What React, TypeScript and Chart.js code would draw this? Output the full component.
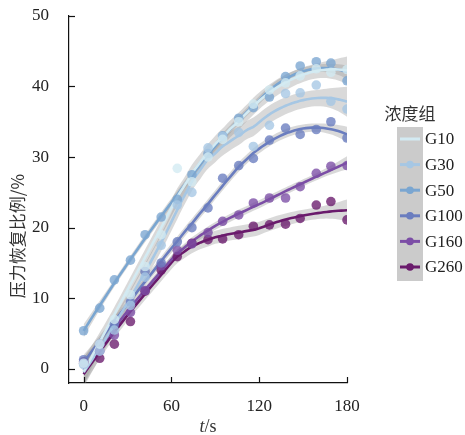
import React, { useEffect, useRef } from 'react';
import { Chart, registerables } from 'chart.js';
Chart.register(...registerables);

// sampling times (s)
const times = [0, 11, 21, 32, 42, 53, 64, 74, 85, 95, 106, 116, 127, 138, 148, 159, 169, 180];
const groupNames = ['G10', 'G30', 'G50', 'G100', 'G160', 'G260'];
const g10 = [0.8, 3.5, 7.0, 10.5, 14.5, 19.0, 28.4, 26.5, 30.0, 32.5, 35.0, 37.5, 39.5, 40.5, 41.5, 42.5, 42.0, 42.4];
const g30 = [0.6, 2.5, 5.5, 9.0, 13.0, 17.5, 23.2, 25.0, 31.3, 32.9, 33.5, 31.5, 34.5, 39.0, 39.1, 40.2, 37.9, 36.8];
const g50 = [5.4, 8.6, 12.6, 15.4, 19.0, 21.5, 24.0, 27.5, 30.5, 33.0, 35.5, 37.0, 38.5, 41.4, 42.9, 43.5, 43.3, 40.8];
const g100 = [1.3, 3.5, 6.3, 9.5, 13.8, 15.0, 18.0, 20.0, 22.8, 27.0, 28.8, 29.8, 32.4, 34.1, 33.2, 33.9, 35.0, 32.7];
const g160 = [0.8, 2.5, 4.8, 8.0, 11.1, 14.6, 16.8, 17.7, 19.3, 20.9, 21.8, 23.5, 24.2, 24.2, 25.8, 27.7, 28.7, 28.8];
const g260 = [1.0, 1.5, 3.5, 6.7, 11.0, 14.0, 15.9, 17.8, 18.3, 18.4, 19.0, 20.2, 20.4, 20.5, 21.3, 23.2, 23.7, 21.1];
const seriesValues = [g10, g30, g50, g100, g160, g260];
const seriesColors = ['#d3eaf2', '#a6c7e4', '#7aa6d1', '#6a7dbf', '#7c4ea6', '#6a1b6c'];
const xTickValues = [0, 60, 120, 180];
const yTickValues = [0, 10, 20, 30, 40, 50];
const legendTitle = '浓度组';
const yTitle = '压力恢复比例/%';
const bandMultiplier = 1.75; // ~90% confidence band

function invert(A: number[][]): number[][] {
  const n = A.length;
  const M = A.map((r, i) => [...r, ...Array.from({ length: n }, (_, j) => (i === j ? 1 : 0))]);
  for (let c = 0; c < n; c++) {
    let p = c;
    for (let r = c + 1; r < n; r++) if (Math.abs(M[r][c]) > Math.abs(M[p][c])) p = r;
    [M[c], M[p]] = [M[p], M[c]];
    const d = M[c][c] || 1e-12;
    for (let k = 0; k < 2 * n; k++) M[c][k] /= d;
    for (let r = 0; r < n; r++) {
      if (r === c) continue;
      const f = M[r][c];
      for (let k = 0; k < 2 * n; k++) M[r][k] -= f * M[c][k];
    }
  }
  return M.map(r => r.slice(n));
}

function loess(xs: number[], ys: number[], span = 0.75) {
  const n = xs.length;
  const q = Math.floor(span * n);
  const opAt = (x0: number) => {
    const d = xs.map(x => Math.abs(x - x0));
    const sorted = [...d].sort((a, b) => a - b);
    const h = Math.max(sorted[q - 1], 1e-9) * 1.0000001;
    const w = d.map(di => { const u = di / h; return u < 1 ? Math.pow(1 - u * u * u, 3) : 0; });
    const V = xs.map(x => { const u = (x - x0) / 180; return [1, u, u * u]; });
    const M = [[0, 0, 0], [0, 0, 0], [0, 0, 0]];
    for (let i = 0; i < n; i++) for (let a = 0; a < 3; a++) for (let b = 0; b < 3; b++) M[a][b] += w[i] * V[i][a] * V[i][b];
    const Mi = invert(M);
    return xs.map((_, i) => w[i] * (Mi[0][0] * V[i][0] + Mi[0][1] * V[i][1] + Mi[0][2] * V[i][2]));
  };
  const L = xs.map(x => opAt(x));
  const fitted = L.map(l => l.reduce((s, v, i) => s + v * ys[i], 0));
  const rss = ys.reduce((s, y, i) => s + (y - fitted[i]) ** 2, 0);
  let delta1 = 0;
  for (let i = 0; i < n; i++) for (let j = 0; j < n; j++) { const a = (i === j ? 1 : 0) - L[i][j]; delta1 += a * a; }
  const s = Math.sqrt(rss / delta1);
  return (x0: number) => {
    const l = opAt(x0);
    const y = l.reduce((acc, v, i) => acc + v * ys[i], 0);
    const se = s * Math.sqrt(l.reduce((acc, v) => acc + v * v, 0));
    return [y, se];
  };
}

const decorPlugin = {
  id: 'decor',
  afterDraw(chart: any) {
    const { ctx, chartArea, scales } = chart;
    ctx.save();
    ctx.strokeStyle = '#111';
    ctx.lineWidth = 1.2;
    yTickValues.forEach(v => {
      const y = Math.round(scales.y.getPixelForValue(v)) + 0.5;
      ctx.beginPath(); ctx.moveTo(chartArea.left, y); ctx.lineTo(chartArea.left + 6, y); ctx.stroke();
    });
    xTickValues.forEach(v => {
      const x = Math.round(scales.x.getPixelForValue(v)) + 0.5;
      ctx.beginPath(); ctx.moveTo(x, chartArea.bottom); ctx.lineTo(x, chartArea.bottom - 6); ctx.stroke();
    });
    // y title
    ctx.fillStyle = '#333';
    ctx.save();
    ctx.translate(18, 236);
    ctx.rotate(-Math.PI / 2);
    ctx.font = '17px "Noto Sans CJK SC"';
    ctx.textAlign = 'center';
    ctx.textBaseline = 'middle';
    ctx.fillText(yTitle, 0, 0);
    ctx.restore();
    // x title
    const cx = (chartArea.left + chartArea.right) / 2;
    ctx.textBaseline = 'middle';
    ctx.textAlign = 'left';
    ctx.font = 'italic 18px "Liberation Serif"';
    const wt = ctx.measureText('t').width;
    ctx.font = '18px "Liberation Serif"';
    const ws = ctx.measureText('/s').width;
    const start = cx - (wt + ws) / 2;
    ctx.font = 'italic 18px "Liberation Serif"';
    ctx.fillText('t', start, 427);
    ctx.font = '18px "Liberation Serif"';
    ctx.fillText('/s', start + wt, 427);
    // legend
    ctx.font = '17px "Noto Sans CJK SC"';
    ctx.textAlign = 'center';
    ctx.fillText(legendTitle, 410, 114);
    ctx.fillStyle = '#cbcbcb';
    ctx.fillRect(397, 127, 26, 154);
    groupNames.forEach((name, k) => {
      const y = 139 + k * 25.6;
      ctx.strokeStyle = seriesColors[k];
      ctx.lineWidth = 3;
      ctx.beginPath(); ctx.moveTo(400, y); ctx.lineTo(420, y); ctx.stroke();
      if (k > 0) {
        ctx.fillStyle = seriesColors[k];
        ctx.beginPath(); ctx.arc(410, y, 3.8, 0, Math.PI * 2); ctx.fill();
      }
      ctx.fillStyle = '#222';
      ctx.textAlign = 'left';
      ctx.font = '17px "Liberation Serif"';
      ctx.fillText(name, 425, y + 1);
    });
    ctx.restore();
  },
};

export default function App() {
  const ref = useRef<HTMLCanvasElement>(null);
  useEffect(() => {
    const datasets: any[] = [];
    const grid: number[] = [];
    for (let t = 0; t <= 180; t += 2) grid.push(t);
    seriesValues.forEach((vals, k) => {
      const f = loess(times, vals);
      const est = grid.map(t => f(t));
      datasets.push({
        type: 'line', label: groupNames[k] + ' hi', data: grid.map((t, i) => ({ x: t, y: est[i][0] + bandMultiplier * est[i][1] })),
        borderWidth: 0, borderColor: 'rgba(0,0,0,0)', pointRadius: 0, fill: false, order: 3,
      });
      datasets.push({
        type: 'line', label: groupNames[k] + ' lo', data: grid.map((t, i) => ({ x: t, y: est[i][0] - bandMultiplier * est[i][1] })),
        borderWidth: 0, borderColor: 'rgba(0,0,0,0)', pointRadius: 0, fill: '-1', backgroundColor: 'rgba(150,150,150,0.36)', order: 3,
      });
      datasets.push({
        type: 'line', label: groupNames[k] + ' fit', data: grid.map((t, i) => ({ x: t, y: est[i][0] })),
        borderWidth: 2.6, borderColor: seriesColors[k], pointRadius: 0, fill: false, order: 2,
      });
      datasets.push({
        type: 'line', label: groupNames[k], data: times.map((t, i) => ({ x: t, y: vals[i] })),
        showLine: false, pointRadius: 4.8, pointBorderWidth: 0, pointBackgroundColor: seriesColors[k] + 'c8', order: 1,
      });
    });
    const chart = new Chart(ref.current!, {
      type: 'line',
      data: { datasets },
      options: {
        animation: false,
        responsive: false,
        layout: { padding: { top: 8, right: 118, left: 0, bottom: 0 } },
        plugins: { legend: { display: false }, tooltip: { enabled: false } },
        scales: {
          x: {
            type: 'linear', min: -10, max: 180,
            grid: { display: false },
            border: { display: true, color: '#111', width: 1.2 },
            afterBuildTicks: (s: any) => { s.ticks = xTickValues.map(v => ({ value: v })); },
            afterFit: (s: any) => { s.height = 52; },
            ticks: { color: '#222', font: { family: 'Liberation Serif', size: 17 }, padding: 5, maxRotation: 0 },
          },
          y: {
            type: 'linear', min: -2, max: 50,
            grid: { display: false },
            border: { display: true, color: '#111', width: 1.2 },
            afterBuildTicks: (s: any) => { s.ticks = yTickValues.map(v => ({ value: v })); },
            afterFit: (s: any) => { s.width = 69; },
            ticks: { color: '#222', font: { family: 'Liberation Serif', size: 17, lineHeight: 0.45 }, padding: 12 },
          },
        },
      },
      plugins: [decorPlugin],
    });
    return () => chart.destroy();
  }, []);
  return (
    <div style={{ position: 'fixed', left: 0, top: 0, width: 465, height: 435, background: '#fff' }}>
      <canvas ref={ref} width={465} height={435} style={{ width: 465, height: 435 }} />
    </div>
  );
}
